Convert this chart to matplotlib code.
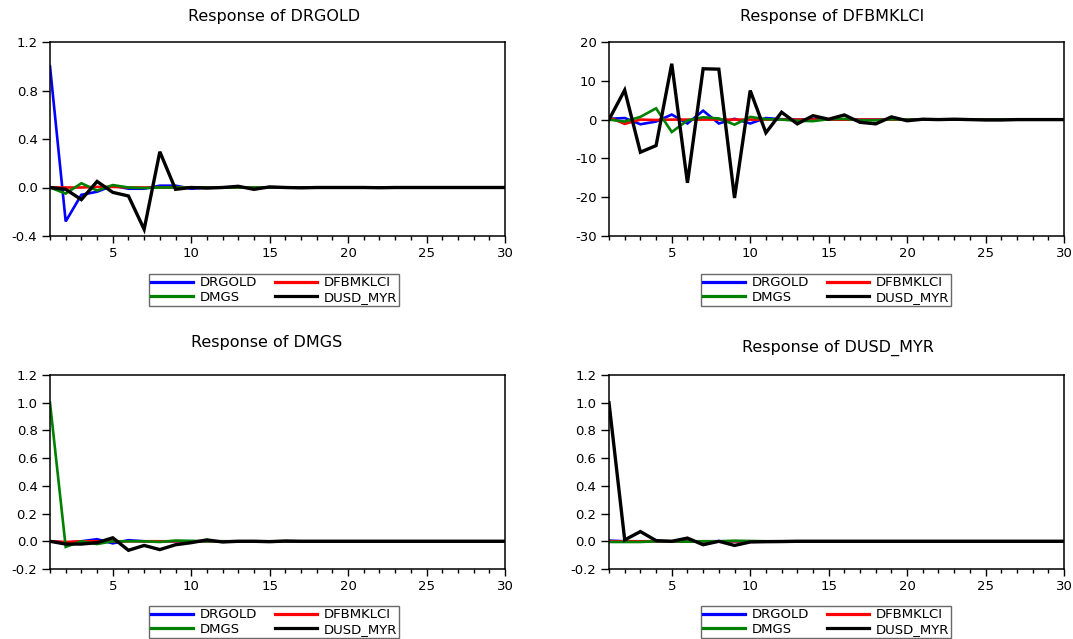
import matplotlib
matplotlib.use("Agg")
import matplotlib.pyplot as plt

plt.rcParams['font.family'] = ['DejaVu Sans']

# horizons 1..30
periods = list(range(1, 31))

names = ['DRGOLD', 'DFBMKLCI', 'DMGS', 'DUSD_MYR']
colors = ['#0000ff', '#ff0000', '#008000', '#000000']

# Response of DRGOLD
gold_drgold = [1.0, -0.28, -0.06, -0.035, 0.015, -0.01, -0.01, 0.015, 0.015, -0.01,
               0.0, 0.0, 0.0, 0.0, 0.0, 0.0, 0.0, 0.0, 0.0, 0.0,
               0.0, 0.0, 0.0, 0.0, 0.0, 0.0, 0.0, 0.0, 0.0, 0.0]
gold_dfbmklci = [0.0, 0.0, 0.0, 0.005, 0.005, 0.0, 0.0, 0.0, 0.0, 0.0,
                 0.0, 0.0, 0.0, 0.0, 0.0, 0.0, 0.0, 0.0, 0.0, 0.0,
                 0.0, 0.0, 0.0, 0.0, 0.0, 0.0, 0.0, 0.0, 0.0, 0.0]
gold_dmgs = [0.0, -0.05, 0.035, -0.025, 0.02, 0.0, -0.005, 0.0, 0.0, 0.0,
             0.0, 0.0, 0.0, 0.0, 0.0, 0.0, 0.0, 0.0, 0.0, 0.0,
             0.0, 0.0, 0.0, 0.0, 0.0, 0.0, 0.0, 0.0, 0.0, 0.0]
gold_dusd = [0.0, -0.015, -0.1, 0.05, -0.04, -0.07, -0.345, 0.295, -0.015, 0.0,
             -0.005, 0.0, 0.01, -0.015, 0.005, 0.0, -0.003, 0.0, 0.0, 0.0,
             0.0, -0.002, 0.0, 0.0, 0.0, 0.0, 0.0, 0.0, 0.0, 0.0]

# Response of DFBMKLCI
klci_drgold = [0.2, 0.4, -1.2, -0.5, 1.3, -1.0, 2.3, -1.0, 0.2, -1.0,
               0.4, 0.1, 0.0, 0.1, 0.0, 0.0, 0.0, 0.0, 0.0, 0.0,
               0.0, 0.0, 0.0, 0.0, 0.0, 0.0, 0.0, 0.0, 0.0, 0.0]
klci_dfbmklci = [0.6, -1.1, 0.0, -0.1, 0.0, 0.0, 0.0, 0.0, 0.0, 0.0,
                 0.0, 0.0, 0.0, 0.0, 0.0, 0.0, 0.0, 0.0, 0.0, 0.0,
                 0.0, 0.0, 0.0, 0.0, 0.0, 0.0, 0.0, 0.0, 0.0, 0.0]
klci_dmgs = [0.0, -0.5, 0.7, 2.9, -3.2, -0.2, 0.6, 0.3, -1.3, 0.7,
             0.1, 0.0, -0.3, -0.4, 0.1, 0.2, -0.2, -0.2, 0.1, 0.0,
             0.0, 0.0, 0.0, 0.0, 0.0, 0.0, 0.0, 0.0, 0.0, 0.0]
klci_dusd = [0.0, 7.6, -8.4, -6.7, 14.4, -16.3, 13.1, 13.0, -20.2, 7.5,
             -3.4, 1.9, -1.1, 1.0, 0.1, 1.2, -0.7, -1.1, 0.7, -0.3,
             0.1, 0.0, 0.1, 0.0, -0.1, -0.1, 0.0, 0.0, 0.0, 0.0]

# Response of DMGS
mgs_drgold = [0.0, -0.01, 0.0, 0.015, -0.015, 0.008, 0.0, 0.0, 0.0, 0.0,
              0.0, 0.0, 0.0, 0.0, 0.0, 0.0, 0.0, 0.0, 0.0, 0.0,
              0.0, 0.0, 0.0, 0.0, 0.0, 0.0, 0.0, 0.0, 0.0, 0.0]
mgs_dfbmklci = [0.0, -0.005, 0.0, 0.0, 0.0, 0.0, 0.0, 0.0, 0.0, 0.0,
                0.0, 0.0, 0.0, 0.0, 0.0, 0.0, 0.0, 0.0, 0.0, 0.0,
                0.0, 0.0, 0.0, 0.0, 0.0, 0.0, 0.0, 0.0, 0.0, 0.0]
mgs_dmgs = [1.0, -0.04, 0.0, -0.02, 0.0, 0.0, 0.0, -0.005, 0.005, 0.003,
            0.0, 0.0, 0.0, 0.0, 0.0, 0.0, 0.0, 0.0, 0.0, 0.0,
            0.0, 0.0, 0.0, 0.0, 0.0, 0.0, 0.0, 0.0, 0.0, 0.0]
mgs_dusd = [0.0, -0.02, -0.02, -0.01, 0.025, -0.065, -0.03, -0.06, -0.025, -0.01,
            0.01, -0.005, 0.0, 0.0, -0.003, 0.002, 0.0, 0.0, 0.0, 0.0,
            0.0, 0.0, 0.0, 0.0, 0.0, 0.0, 0.0, 0.0, 0.0, 0.0]

# Response of DUSD_MYR
usd_drgold = [0.005, 0.0, 0.0, 0.0, 0.0, 0.0, 0.0, 0.0, 0.0, 0.0,
              0.0, 0.0, 0.0, 0.0, 0.0, 0.0, 0.0, 0.0, 0.0, 0.0,
              0.0, 0.0, 0.0, 0.0, 0.0, 0.0, 0.0, 0.0, 0.0, 0.0]
usd_dfbmklci = [0.0, 0.0, 0.0, 0.0, 0.0, -0.003, 0.0, 0.0, 0.0, 0.0,
                0.0, 0.0, 0.0, 0.0, 0.0, 0.0, 0.0, 0.0, 0.0, 0.0,
                0.0, 0.0, 0.0, 0.0, 0.0, 0.0, 0.0, 0.0, 0.0, 0.0]
usd_dmgs = [-0.005, -0.005, -0.005, 0.0, 0.0, -0.003, 0.0, 0.0, 0.004, 0.002,
            0.0, 0.0, 0.0, 0.0, 0.0, 0.0, 0.0, 0.0, 0.0, 0.0,
            0.0, 0.0, 0.0, 0.0, 0.0, 0.0, 0.0, 0.0, 0.0, 0.0]
usd_dusd = [1.0, 0.01, 0.07, 0.005, 0.0, 0.023, -0.025, 0.0, -0.03, -0.005,
            -0.003, -0.002, 0.0, 0.0, 0.0, 0.0, 0.0, 0.0, 0.0, 0.0,
            0.0, 0.0, 0.0, 0.0, 0.0, 0.0, 0.0, 0.0, 0.0, 0.0]

panels = [
    ('Response of DRGOLD', [gold_drgold, gold_dfbmklci, gold_dmgs, gold_dusd],
     (-0.4, 1.2), [-0.4, 0.0, 0.4, 0.8, 1.2], ['-0.4', '0.0', '0.4', '0.8', '1.2']),
    ('Response of DFBMKLCI', [klci_drgold, klci_dfbmklci, klci_dmgs, klci_dusd],
     (-30, 20), [-30, -20, -10, 0, 10, 20], ['-30', '-20', '-10', '0', '10', '20']),
    ('Response of DMGS', [mgs_drgold, mgs_dfbmklci, mgs_dmgs, mgs_dusd],
     (-0.2, 1.2), [-0.2, 0.0, 0.2, 0.4, 0.6, 0.8, 1.0, 1.2],
     ['-0.2', '0.0', '0.2', '0.4', '0.6', '0.8', '1.0', '1.2']),
    ('Response of DUSD_MYR', [usd_drgold, usd_dfbmklci, usd_dmgs, usd_dusd],
     (-0.2, 1.2), [-0.2, 0.0, 0.2, 0.4, 0.6, 0.8, 1.0, 1.2],
     ['-0.2', '0.0', '0.2', '0.4', '0.6', '0.8', '1.0', '1.2']),
]

W, H = 1073, 639
fig = plt.figure(figsize=(W / 100, H / 100), dpi=100)

# pixel boxes (left, top, right, bottom) for each plot area
boxes = [(50, 42, 505, 236), (609, 42, 1064, 236),
         (50, 375, 505, 569), (609, 375, 1064, 569)]
title_pos = [(274, 17), (832, 16), (267, 343), (838, 348)]
legend_pos = [(274, 290), (826, 290), (274, 622), (826, 622)]

for i, (title, series, ylim, yt, ytl) in enumerate(panels):
    l, t, r, b = boxes[i]
    ax = fig.add_axes([l / W, 1 - b / H, (r - l) / W, (b - t) / H])
    lines = {}
    for name, col, vals in zip(names, colors, series):
        lw = 2.4 if name == 'DUSD_MYR' else 1.9
        ln, = ax.plot(periods, vals, color=col, lw=lw, label=name,
                      solid_joinstyle='miter')
        lines[name] = ln
    ax.set_xlim(1, 30)
    ax.set_ylim(*ylim)
    ax.set_xticks([5, 10, 15, 20, 25, 30])
    ax.set_xticks(periods, minor=True)
    ax.set_yticks(yt)
    ax.set_yticklabels(ytl)
    ax.tick_params(axis='x', which='major', direction='out', length=5, width=1,
                   labelsize=9.5, pad=3)
    ax.tick_params(axis='x', which='minor', direction='out', length=3, width=1)
    ax.tick_params(axis='y', direction='out', length=6, width=1, labelsize=9.5, pad=3)
    for sp in ax.spines.values():
        sp.set_linewidth(1.1)
    fig.text(title_pos[i][0] / W, 1 - title_pos[i][1] / H, title,
             ha='center', va='center', fontsize=11.5)
    order = ['DRGOLD', 'DMGS', 'DFBMKLCI', 'DUSD_MYR']
    leg = ax.legend([lines[n] for n in order], order, ncol=2, loc='center',
                    bbox_to_anchor=(legend_pos[i][0] / W, 1 - legend_pos[i][1] / H),
                    bbox_transform=fig.transFigure, fontsize=9.5, frameon=True,
                    fancybox=False, edgecolor='#444444', handlelength=3.2,
                    handletextpad=0.5, columnspacing=1.3, labelspacing=0.1,
                    borderpad=0.2, borderaxespad=0)
    leg.get_frame().set_linewidth(1.0)
    for h in leg.get_lines():
        h.set_linewidth(2.3)

fig.savefig('out.png', dpi=100)
